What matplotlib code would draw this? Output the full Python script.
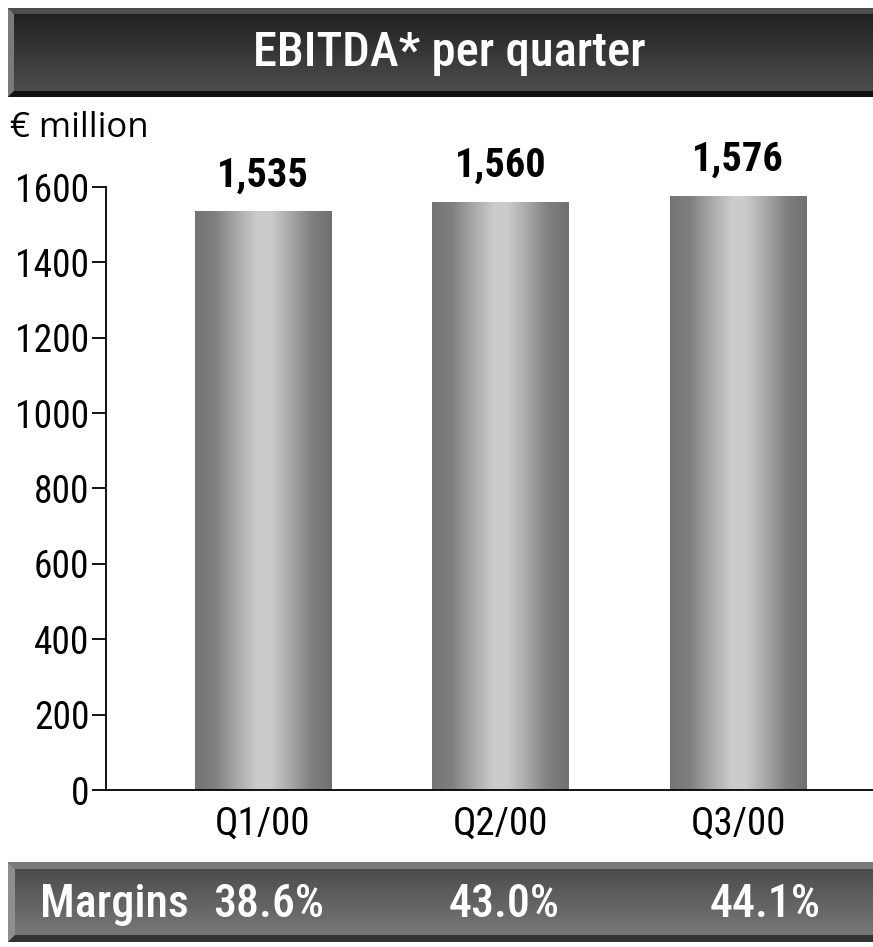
import numpy as np
import matplotlib
matplotlib.use("Agg")
import matplotlib.pyplot as plt
from matplotlib.patches import Polygon

quarters = ["Q1/00", "Q2/00", "Q3/00"]
ebitda = [1535, 1560, 1576]
value_labels = ["1,535", "1,560", "1,576"]
margins = ["38.6%", "43.0%", "44.1%"]
yticks = [0, 200, 400, 600, 800, 1000, 1200, 1400, 1600]
title = "EBITDA* per quarter"
unit = "€ million"

FONT = ["Roboto Condensed", "DejaVu Sans"]
plt.rcParams["font.family"] = FONT

W, H = 873, 947
fig = plt.figure(figsize=(W / 100, H / 100), dpi=100)
fig.patch.set_facecolor("white")

# ---- main axes ----
ax = fig.add_axes([106 / W, 1 - 790 / H, (W - 106) / W, (790 - 187) / H])
x = np.arange(len(quarters))
bars = ax.bar(x, ebitda, width=0.573, facecolor="none", edgecolor="none")

# horizontal gradient for each bar
prof = np.array([0.0, 0.15, 0.3, 0.45, 0.55, 0.7, 0.85, 1.0])
vals = np.array([0x74, 0x80, 0xa8, 0xcb, 0xcb, 0xa8, 0x80, 0x70]) / 255.0
xs = np.linspace(0, 1, 256)
g = np.interp(xs, prof, vals)
grad = np.dstack([g, g, g]).repeat(2, axis=0)
for b, lab in zip(bars, value_labels):
    x0, w, h = b.get_x(), b.get_width(), b.get_height()
    im = ax.imshow(grad, extent=[x0, x0 + w, 0, h], aspect="auto",
                   interpolation="bilinear", zorder=2)
    im.set_clip_path(b)
    ax.text(x0 + w / 2, h + 45, lab, ha="center", va="bottom",
            fontsize=29, fontweight="bold", clip_on=False)

ax.set_xlim(-0.661, 2.568)
ax.set_ylim(0, 1600)
ax.set_xticks(x)
ax.set_xticklabels(quarters, fontsize=28)
ax.set_yticks(yticks)
ax.set_yticklabels([str(v) for v in yticks], fontsize=27)
ax.tick_params(axis="x", length=0, pad=11)
ax.tick_params(axis="y", direction="out", length=10, width=1.3, pad=2)
for s in ["top", "right"]:
    ax.spines[s].set_visible(False)
ax.spines["left"].set_linewidth(1.3)
ax.spines["bottom"].set_linewidth(1.3)
ax.set_facecolor("none")

# ---- overlay in pixel coords for banners ----
ov = fig.add_axes([0, 0, 1, 1], zorder=-1)
ov.axis("off")


def banner(x0, y0, x1, y1, top_c, bot_c, bev_top, bev_left, bev_bot, b=6):
    n = 64
    gg = np.linspace(top_c, bot_c, n)[:, None]
    img = np.dstack([gg, gg, gg]).repeat(2, axis=1)
    ov.imshow(img, extent=[x0, x1, y1, y0], aspect="auto",
              interpolation="bilinear", zorder=1)
    ov.add_patch(Polygon([[x0, y0], [x1, y0], [x1, y0 + b], [x0 + b, y0 + b]],
                         closed=True, fc=bev_top, ec="none", zorder=2))
    ov.add_patch(Polygon([[x0, y0], [x0 + b, y0 + b], [x0 + b, y1 - b], [x0, y1]],
                         closed=True, fc=bev_left, ec="none", zorder=2))
    ov.add_patch(Polygon([[x0, y1], [x0 + b, y1 - b], [x1, y1 - b], [x1, y1]],
                         closed=True, fc=bev_bot, ec="none", zorder=2))


banner(8, 8, W, 97, 0x1e / 255, 0x50 / 255, "#4e4e4e", "#7a7a7a", "#121212", b=6)
ov.text(449, 53, title, ha="center", va="center", color="white",
        fontsize=35, fontweight="medium", zorder=3)

banner(8, 862, W, 942, 0x48 / 255, 0x7c / 255, "#7a7a7a", "#8e8e8e", "#333333", b=7)
ov.text(40, 904, "Margins", ha="left", va="center", color="white",
        fontsize=33, fontweight="medium", zorder=3)
for cx, m in zip([269, 504, 765], margins):
    ov.text(cx, 904, m, ha="center", va="center", color="white",
            fontsize=33, fontweight="medium", zorder=3)

ov.text(10, 128, unit, ha="left", va="center", fontsize=25,
        family=["Open Sans", "DejaVu Sans"], zorder=3)

ov.set_xlim(0, W)
ov.set_ylim(H, 0)

fig.savefig("out.png", dpi=100)
